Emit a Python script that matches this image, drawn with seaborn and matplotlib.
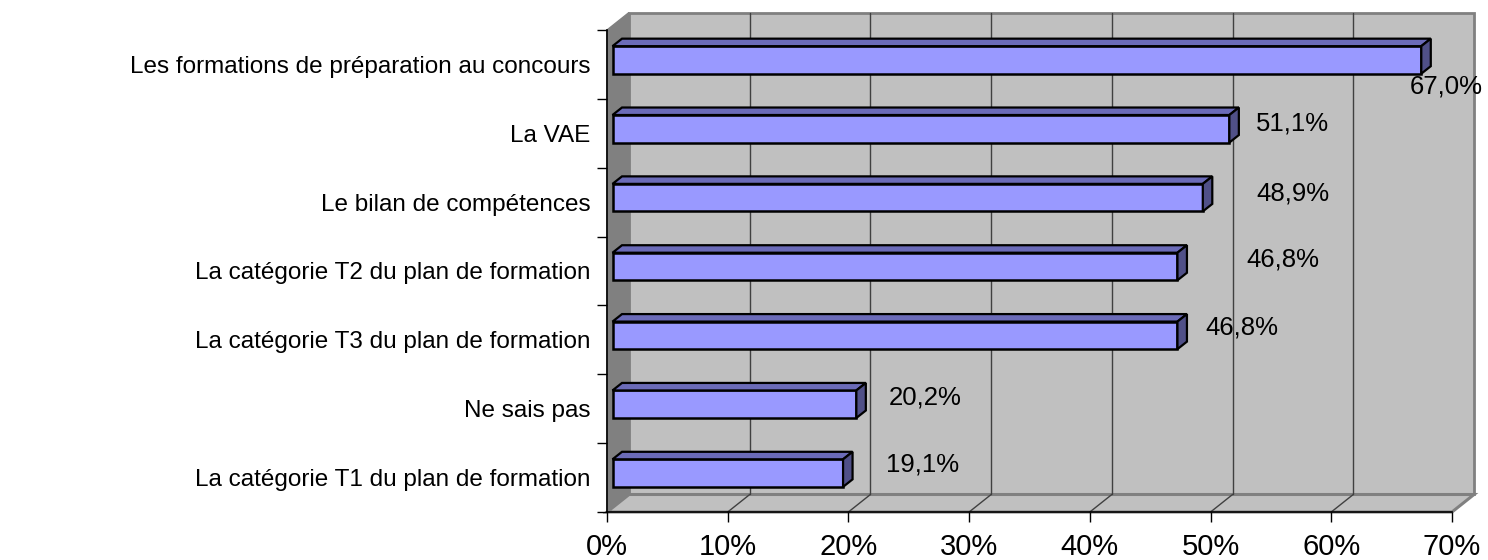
import matplotlib
matplotlib.use("Agg")
import matplotlib.pyplot as plt
import seaborn as sns
from matplotlib.patches import Polygon, Rectangle
from matplotlib.ticker import FuncFormatter

categories = [
    "Les formations de préparation au concours",
    "La VAE",
    "Le bilan de compétences",
    "La catégorie T2 du plan de formation",
    "La catégorie T3 du plan de formation",
    "Ne sais pas",
    "La catégorie T1 du plan de formation",
]
values = [67.0, 51.1, 48.9, 46.8, 46.8, 20.2, 19.1]
value_labels = ["67,0%", "51,1%", "48,9%", "46,8%", "46,8%", "20,2%", "19,1%"]
# where the data labels sit (x centre in %, baseline in category units)
label_x = [69.55, 56.8, 56.8, 56.0, 52.6, 26.4, 26.1]
label_y = [0.415, 0.962, 1.969, 2.938, 3.915, 4.932, 5.915]

sns.set_style("white")
plt.rcParams['font.family'] = ['Liberation Sans', 'DejaVu Sans']
plt.rcParams['text.color'] = 'black'

W, H = 1488, 560
fig = plt.figure(figsize=(W / 100, H / 100), dpi=100)
ax_l, ax_b, ax_w, ax_h = 607, 48, 845, 482
ax = fig.add_axes([ax_l / W, ax_b / H, ax_w / W, ax_h / H])

XMAX = 70
n = len(categories)
sx = ax_w / XMAX      # px per %
sy = ax_h / n         # px per category


def px(dx, dy):
    # image pixel offset -> data offset (y axis is inverted, like the image)
    return dx / sx, dy / sy


sns.barplot(x=values, y=categories, orient="h", color="#9999FF", saturation=1,
            width=0.4, edgecolor="black", linewidth=1.8, ax=ax, zorder=3)
bars = list(ax.containers[0])

ax.set_xlim(0, XMAX)
ax.set_ylim(n - 0.5, -0.5)
ax.patch.set_visible(False)
ax.set_xlabel("")
ax.set_ylabel("")

# 3d walls
dx, dy = px(22, -17.5)
ax.add_patch(Rectangle((dx, -0.5 + dy), XMAX, n, fc="#C0C0C0", ec="#808080",
                       lw=2, zorder=0.2, clip_on=False))
ax.add_patch(Polygon([(0, -0.5), (dx, -0.5 + dy), (dx, n - 0.5 + dy), (0, n - 0.5)],
                     closed=True, fc="#808080", ec="#808080", lw=1, zorder=0.3, clip_on=False))
ax.add_patch(Polygon([(0, n - 0.5), (XMAX, n - 0.5), (XMAX + dx, n - 0.5 + dy), (dx, n - 0.5 + dy)],
                     closed=True, fc="#C0C0C0", ec="#808080", lw=2.2, zorder=0.4, clip_on=False))

ticks = list(range(0, XMAX + 1, 10))
for t in ticks[1:-1]:
    ax.plot([t + dx, t + dx], [-0.5 + dy, n - 0.5 + dy], color="#404040", lw=1,
            zorder=0.5, clip_on=False)
    ax.plot([t, t + dx], [n - 0.5, n - 0.5 + dy], color="#404040", lw=1,
            zorder=0.5, clip_on=False)

# 3d bars
fx, fy = px(5.5, -4.5)
bx, by = px(9.5, -7.5)
for bar in bars:
    x0 = bar.get_x() + fx
    y0 = bar.get_y() + fy
    w, h = bar.get_width(), bar.get_height()
    bar.set_x(x0)
    bar.set_y(y0)
    top = [(x0, y0), (x0 + w, y0), (x0 + w + bx, y0 + by), (x0 + bx, y0 + by)]
    side = [(x0 + w, y0), (x0 + w + bx, y0 + by), (x0 + w + bx, y0 + h + by), (x0 + w, y0 + h)]
    ax.add_patch(Polygon(top, closed=True, fc="#6B6BB8", ec="black", lw=1.6, zorder=3.1))
    ax.add_patch(Polygon(side, closed=True, fc="#505088", ec="black", lw=1.6, zorder=3.1))

for lx, ly, txt in zip(label_x, label_y, value_labels):
    ax.text(lx, ly, txt, ha="center", va="baseline", fontsize=18.5, color="black",
            zorder=5, clip_on=False)

# axes
ax.set_xticks(ticks)
ax.xaxis.set_major_formatter(FuncFormatter(lambda v, p: f"{int(v)}%"))
ax.set_yticks([i - 0.5 for i in range(n + 1)], minor=True)
ax.tick_params(axis="x", direction="out", length=7, width=1, color="black",
               labelsize=21, labelcolor="black", pad=8, bottom=True)
ax.tick_params(axis="y", which="major", length=0, labelsize=17.5,
               labelcolor="black", pad=12)
ax.tick_params(axis="y", which="minor", direction="out", length=7.2, width=1,
               color="black", left=True)

for s in ["top", "right"]:
    ax.spines[s].set_visible(False)
for s in ["left", "bottom"]:
    ax.spines[s].set_color("black")
    ax.spines[s].set_linewidth(1.2)
    ax.spines[s].set_zorder(4)

fig.savefig("out.png", dpi=100)
